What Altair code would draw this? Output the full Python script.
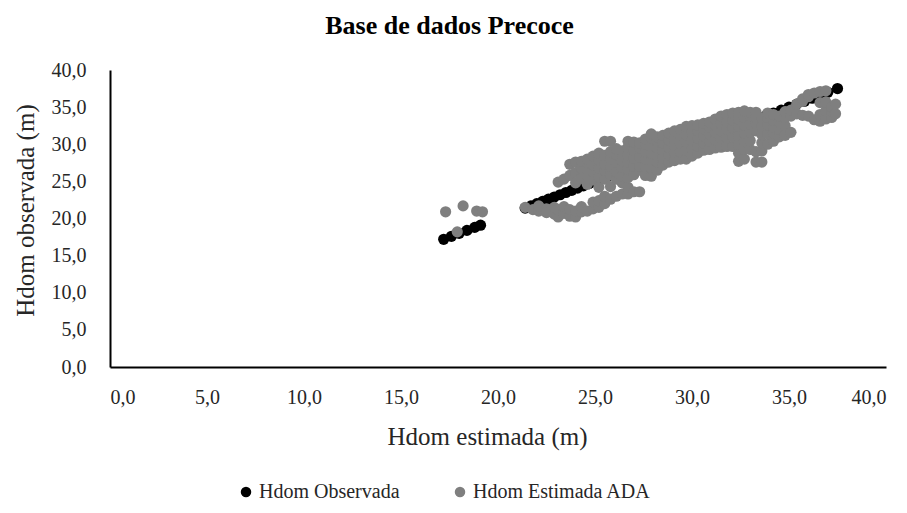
import altair as alt
import pandas as pd

# Observed (black) points, lying on the 1:1 line
obs_x = [17.2, 17.6, 18.0, 18.4, 18.8, 19.1,
         21.4, 21.7, 22.0, 22.3, 22.6, 22.9, 23.2, 23.5, 23.8, 24.1, 24.4, 24.7,
         25.0, 25.3, 25.6, 25.9, 26.2, 26.5, 26.8, 27.1, 27.4, 27.7, 28.0, 28.5,
         29.0, 29.5, 30.0, 30.5, 31.0, 31.5, 32.0, 32.5, 33.0, 33.4, 33.8, 34.2,
         34.6, 35.0, 35.4, 35.8, 36.2, 36.6, 37.0, 37.5]
obs_y = [17.2, 17.6, 18.0, 18.4, 18.8, 19.1,
         21.4, 21.7, 22.0, 22.3, 22.6, 22.9, 23.2, 23.5, 23.8, 24.1, 24.4, 24.7,
         25.0, 25.3, 25.6, 25.9, 26.2, 26.5, 26.8, 27.1, 27.4, 27.7, 28.0, 28.5,
         29.0, 29.5, 30.0, 30.5, 31.0, 31.5, 32.0, 32.5, 33.0, 33.4, 33.8, 34.2,
         34.6, 35.0, 35.4, 35.8, 36.2, 36.6, 37.0, 37.5]

# Estimated (grey) points, read column by column (x: list of y)
est_columns = {
    17.3: [20.9], 17.9: [18.2], 18.2: [21.7], 18.9: [21.0], 19.2: [20.9],
    21.4: [21.5], 21.8: [21.2], 22.1: [21.0, 21.7], 22.5: [21.3, 20.8],
    22.9: [20.6, 21.5], 23.1: [20.2, 21.2, 24.9], 23.4: [20.7, 21.6, 25.3],
    23.7: [20.3, 21.2, 25.8, 27.3], 24.0: [20.2, 21.0, 24.8, 26.2, 27.6],
    24.3: [20.9, 21.6, 25.4, 26.8, 27.7], 24.6: [21.0, 24.6, 25.8, 26.6, 27.5, 28.0],
    24.9: [21.3, 22.2, 25.2, 26.3, 27.2, 28.4],
    25.2: [21.5, 22.4, 24.2, 25.6, 26.8, 27.9, 28.8],
    25.5: [22.0, 23.0, 25.3, 26.5, 27.3, 28.5, 30.4],
    25.8: [22.6, 24.3, 25.9, 27.0, 28.0, 29.0, 30.4],
    26.1: [23.0, 25.3, 26.3, 27.6, 28.6, 29.4],
    26.4: [23.3, 24.8, 25.7, 26.9, 27.8, 29.1],
    26.7: [23.3, 24.2, 25.5, 26.6, 27.6, 28.5, 29.6, 30.4],
    27.0: [23.6, 25.9, 27.0, 28.1, 29.2, 30.3],
    27.3: [23.6, 26.5, 27.1, 28.3, 29.5, 30.2],
    27.6: [25.8, 27.0, 28.0, 29.0, 30.0, 30.7],
    27.9: [25.7, 26.8, 27.8, 28.8, 29.7, 30.8, 31.4],
    28.2: [26.5, 27.6, 28.6, 29.5, 30.5, 31.0],
    28.5: [27.2, 28.2, 29.2, 30.2, 31.2],
    28.8: [27.6, 28.6, 29.6, 30.6, 31.5],
    29.1: [27.8, 28.9, 29.9, 30.8, 31.8],
    29.4: [28.0, 29.0, 30.1, 31.2, 32.0],
    29.7: [28.0, 29.2, 30.3, 31.3, 32.4],
    30.0: [28.4, 29.4, 30.5, 31.6, 32.5],
    30.3: [28.8, 29.8, 30.8, 31.8, 32.6],
    30.6: [29.2, 30.2, 31.1, 32.1, 32.8],
    30.9: [29.3, 30.4, 31.4, 32.3, 33.0],
    31.2: [29.5, 30.6, 31.6, 32.6, 33.4],
    31.5: [29.6, 30.8, 31.8, 32.8, 33.8],
    31.8: [29.7, 30.9, 32.0, 33.0, 34.0],
    32.1: [29.7, 31.0, 32.2, 33.2, 34.2],
    32.4: [27.7, 28.8, 30.0, 31.2, 32.4, 33.4, 34.3],
    32.7: [28.0, 29.3, 30.4, 31.5, 32.6, 33.6, 34.5],
    33.0: [29.3, 30.5, 31.6, 32.7, 33.8, 34.3],
    33.3: [27.6, 29.0, 31.8, 32.8, 33.6, 34.3],
    33.6: [27.6, 29.1, 30.2, 31.3, 32.4, 33.5],
    33.9: [30.0, 31.4, 32.6, 33.6, 34.2],
    34.2: [30.4, 31.5, 32.3, 33.2, 34.0],
    34.5: [31.0, 32.0, 33.0, 33.8],
    34.8: [31.2, 32.5, 33.6, 34.4],
    35.1: [31.6, 33.8, 34.6],
    35.4: [34.1, 35.4],
    35.7: [33.9, 35.8, 36.1],
    36.0: [33.8, 36.4, 36.7],
    36.3: [33.3, 36.9],
    36.6: [33.1, 34.0, 35.6, 37.1],
    36.9: [33.4, 34.5, 35.7, 37.2],
    37.2: [33.6, 34.5, 35.0],
    37.4: [34.1, 35.4],
}
est_x = [x for x, ys in est_columns.items() for _ in ys]
est_y = [y for ys in est_columns.values() for y in ys]

series_names = ["Hdom Observada", "Hdom Estimada ADA"]
series_colors = ["#000000", "#7f7f7f"]
tick_values = [0, 5, 10, 15, 20, 25, 30, 35, 40]

df = pd.concat([
    pd.DataFrame({"x": obs_x, "y": obs_y, "serie": series_names[0]}),
    pd.DataFrame({"x": est_x, "y": est_y, "serie": series_names[1]}),
], ignore_index=True)

FONT = "Liberation Serif"
label_expr = "replace(format(datum.value, '.1f'), '.', ',')"

chart = alt.Chart(df).mark_circle(size=125, opacity=1).encode(
    x=alt.X("x:Q", title="Hdom estimada (m)",
            scale=alt.Scale(domain=[0, 40], nice=False, zero=True),
            axis=alt.Axis(values=tick_values, labelExpr=label_expr, grid=False,
                          ticks=False, labelPadding=20, titlePadding=17,
                          titleX=377,
                          domainColor="#000000", domainWidth=2)),
    y=alt.Y("y:Q", title="Hdom observada (m)",
            scale=alt.Scale(domain=[0, 40], nice=False, zero=True),
            axis=alt.Axis(values=tick_values, labelExpr=label_expr, grid=False,
                          ticks=False, labelPadding=24, titlePadding=13,
                          titleY=140,
                          domainColor="#000000", domainWidth=2)),
    color=alt.Color("serie:N",
                    scale=alt.Scale(domain=series_names, range=series_colors),
                    sort=series_names,
                    legend=alt.Legend(title=None, orient="none", direction="horizontal",
                                      legendX=126, legendY=412,
                                      symbolType="circle", symbolSize=110,
                                      labelFont=FONT, labelFontSize=20,
                                      labelColor="#262626", labelOffset=3,
                                      labelLimit=0,
                                      columnPadding=50, symbolStrokeWidth=0)),
).properties(
    width=776,
    height=297,
    title=alt.TitleParams("Base de dados Precoce", font=FONT, fontSize=26,
                          fontWeight="bold", color="#000000", offset=21,
                          frame="bounds", anchor="middle"),
).configure_view(
    stroke=None
).configure_axis(
    labelFont=FONT, labelFontSize=20, labelColor="#262626",
    titleFont=FONT, titleFontSize=25, titleColor="#262626", titleFontWeight="normal",
)

chart.save("out.html", embed_options={"renderer": "svg", "actions": False})
